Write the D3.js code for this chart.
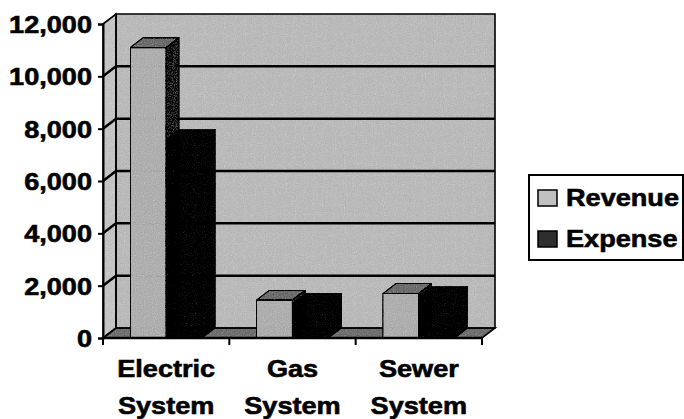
<!DOCTYPE html>
<html lang="en">
<head>
<meta charset="UTF-8">
<script src="https://d3js.org/d3.v7.min.js"></script>
<title>Revenue and Expense</title>
<style>
  body { margin: 0; background: #fff; }
  text { font-family: "Liberation Sans", Arial, sans-serif; font-weight: bold; fill: #000; stroke: #000; stroke-width: 0.6px; }
</style>
</head>
<body>
<div id="container"></div>
<script>
// data
var categories = ["Electric System", "Gas System", "Sewer System"];
var seriesNames = ["Revenue", "Expense"];
var revenue = [11100, 1450, 1700];
var expense = [7600, 1320, 1600];
var yTicks = [0, 2000, 4000, 6000, 8000, 10000, 12000];

var width = 684, height = 419;
var plotLeft = 103, plotRight = 482, plotTop = 24, plotBottom = 338;
var DX = 13, DY = -10;   // 3d depth offset
var stretch = 1.13;

var svg = d3.select("#container").append("svg")
    .attr("width", width).attr("height", height);

// grain filter to imitate the halftone print
var defs = svg.append("defs");
var f = defs.append("filter").attr("id", "grain").attr("x", 0).attr("y", 0).attr("width", 1).attr("height", 1);
f.append("feTurbulence").attr("type", "fractalNoise").attr("baseFrequency", 0.9)
  .attr("numOctaves", 1).attr("seed", 3).attr("result", "noise");
f.append("feColorMatrix").attr("in", "noise").attr("type", "saturate").attr("values", 0).attr("result", "gnoise");
f.append("feComposite").attr("in", "SourceGraphic").attr("in2", "gnoise").attr("operator", "arithmetic")
  .attr("k1", 0).attr("k2", 1).attr("k3", 0.45).attr("k4", -0.22).attr("result", "mix");
f.append("feComposite").attr("in", "mix").attr("in2", "SourceGraphic").attr("operator", "in");

var y = d3.scaleLinear().domain([0, 12000]).range([plotBottom, plotTop]);
var x0 = d3.scaleBand().domain(categories).range([plotLeft, plotRight]);
var x1 = d3.scaleBand().domain(seriesNames).range([0, x0.bandwidth()]).paddingOuter(0.75);

var pts = function(a) { return a.map(function(p) { return p.join(","); }).join(" "); };

var backWall = [[plotLeft + DX, plotTop + DY], [plotRight + DX, plotTop + DY], [plotRight + DX, plotBottom + DY], [plotLeft + DX, plotBottom + DY]];
var sideWall = [[plotLeft, plotTop], [plotLeft + DX, plotTop + DY], [plotLeft + DX, plotBottom + DY], [plotLeft, plotBottom]];
var floor = [[plotLeft, plotBottom], [plotLeft + DX, plotBottom + DY], [plotRight + DX, plotBottom + DY], [plotRight, plotBottom]];

// walls
var walls = svg.append("g");
walls.append("polygon").attr("points", pts(backWall)).attr("fill", "#c9c9c9").attr("filter", "url(#grain)");
walls.append("polygon").attr("points", pts(sideWall)).attr("fill", "#d2d2d2").attr("filter", "url(#grain)");
walls.append("polygon").attr("points", pts(floor)).attr("fill", "#8c8c8c").attr("filter", "url(#grain)");
[backWall, sideWall, floor].forEach(function(p) {
  walls.append("polygon").attr("points", pts(p))
    .attr("fill", "none").attr("stroke", "#000").attr("stroke-width", 1.6);
});

// gridlines
walls.selectAll(".grid").data(yTicks.filter(function(d) { return d > 0 && d < 12000; }))
  .enter().append("polyline")
  .attr("points", function(d) { return pts([[plotLeft, y(d)], [plotLeft + DX, y(d) + DY], [plotRight + DX, y(d) + DY]]); })
  .attr("fill", "none").attr("stroke", "#000").attr("stroke-width", 2.5);

// bars
var series = [
  { name: "Revenue", values: revenue, front: "#c0c0c0", top: "#8a8a8a", side: "#5e5e5e" },
  { name: "Expense", values: expense, front: "#2e2e2e", top: "#141414", side: "#050505" }
];
var bars = svg.append("g");
categories.forEach(function(c, i) {
  series.forEach(function(s) {
    var xa = x0(c) + x1(s.name), xb = xa + x1.bandwidth();
    var yt = y(s.values[i]), yb = y(0);
    var g = bars.append("g").attr("stroke", "#000").attr("stroke-width", 1.2).attr("stroke-linejoin", "round");
    g.append("polygon").attr("points", pts([[xb, yt], [xb + DX, yt + DY], [xb + DX, yb + DY], [xb, yb]]))
      .attr("fill", s.side).attr("filter", "url(#grain)");
    g.append("polygon").attr("points", pts([[xa, yt], [xa + DX, yt + DY], [xb + DX, yt + DY], [xb, yt]]))
      .attr("fill", s.top).attr("filter", "url(#grain)");
    g.append("rect").attr("x", xa).attr("y", yt).attr("width", xb - xa).attr("height", yb - yt)
      .attr("fill", s.front).attr("filter", "url(#grain)");
  });
});

// y axis
var yAxis = svg.append("g").attr("transform", "translate(" + plotLeft + ",0)")
  .call(d3.axisLeft(y).tickValues(yTicks).tickFormat(d3.format(",")).tickSize(5).tickPadding(0));
yAxis.select(".domain").attr("stroke", "#000").attr("stroke-width", 2);
yAxis.selectAll(".tick line").attr("stroke", "#000").attr("stroke-width", 2);
yAxis.selectAll(".tick text")
  .attr("x", 0).attr("dy", "0.35em").attr("text-anchor", "end")
  .attr("transform", "translate(-11,0) scale(" + stretch + ",1)")
  .style("font-size", "24px").style("font-family", "'Liberation Sans', Arial, sans-serif").style("font-weight", "bold");

// x axis
var xAxis = svg.append("g").attr("transform", "translate(0," + plotBottom + ")");
xAxis.append("line").attr("x1", plotLeft).attr("x2", plotRight).attr("stroke", "#000").attr("stroke-width", 2.5);
xAxis.selectAll(".xt").data(x0.domain().map(x0).concat([plotRight])).enter().append("line")
  .attr("x1", function(d) { return d; }).attr("x2", function(d) { return d; })
  .attr("y1", 0).attr("y2", 7).attr("stroke", "#000").attr("stroke-width", 2);
var labels = xAxis.selectAll(".xl").data(categories).enter().append("text")
  .attr("transform", function(d) { return "translate(" + (x0(d) + x0.bandwidth() / 2) + ",0) scale(" + stretch + ",1)"; })
  .attr("text-anchor", "middle").style("font-size", "24px");
labels.selectAll("tspan").data(function(d) { return d.split(" "); }).enter().append("tspan")
  .attr("x", 0).attr("y", function(d, i) { return 39 + i * 37; }).text(function(d) { return d; });

// legend
var legend = svg.append("g").attr("transform", "translate(529,175)");
legend.append("rect").attr("width", 154).attr("height", 85)
  .attr("fill", "#fff").attr("stroke", "#000").attr("stroke-width", 2);
var items = legend.selectAll(".item").data(series).enter().append("g")
  .attr("transform", function(d, i) { return "translate(0," + (i * 41) + ")"; });
items.append("rect").attr("x", 9).attr("y", 15).attr("width", 19).attr("height", 16)
  .attr("fill", function(d) { return d.front; }).attr("stroke", "#000").attr("stroke-width", 1.5);
items.append("text").attr("transform", "translate(37,31) scale(" + stretch + ",1)")
  .style("font-size", "24px").text(function(d) { return d.name; });
</script>
</body>
</html>
